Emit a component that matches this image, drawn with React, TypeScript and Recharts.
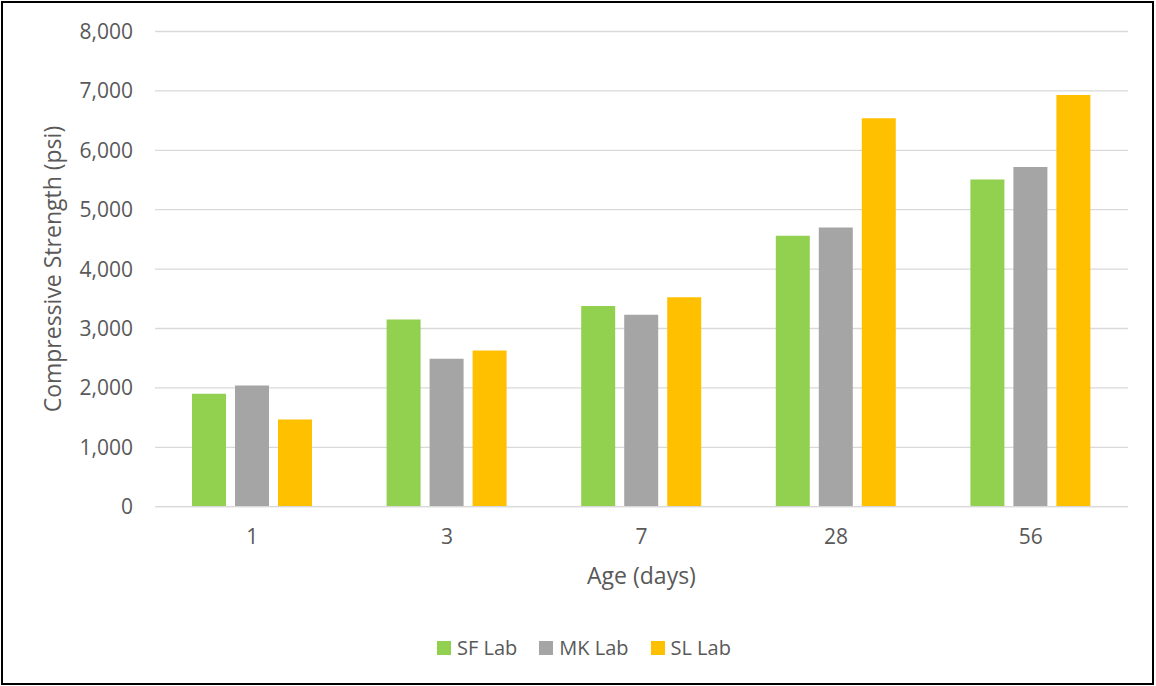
import React from 'react';
import { BarChart, Bar, XAxis, YAxis, CartesianGrid, Legend } from 'recharts';

const ages = ['1', '3', '7', '28', '56'];
const sfLab = [1900, 3150, 3380, 4560, 5510];
const mkLab = [2040, 2490, 3230, 4700, 5720];
const slLab = [1470, 2630, 3525, 6540, 6930];
const yTicks = [0, 1000, 2000, 3000, 4000, 5000, 6000, 7000, 8000];

const seriesNames = ['SF Lab', 'MK Lab', 'SL Lab'];
const seriesColors = ['#92D050', '#A5A5A5', '#FFC000'];

const data = ages.map((age, i) => ({ age, sf: sfLab[i], mk: mkLab[i], sl: slLab[i] }));

const FONT = '"Open Sans", sans-serif';
const TEXT = '#595959';

const LegendContent = () => (
  <div style={{ display: 'flex', alignItems: 'center', height: 24, fontFamily: FONT, fontSize: 20, color: TEXT }}>
    {seriesNames.map((n, i) => (
      <div key={n} style={{ display: 'flex', alignItems: 'center', marginRight: i < 2 ? 22 : 0 }}>
        <div style={{ width: 14, height: 14, background: seriesColors[i], marginRight: 6 }} />
        <span style={{ lineHeight: '24px' }}>{n}</span>
      </div>
    ))}
  </div>
);

export default function App() {
  return (
    <div style={{ position: 'absolute', left: 0, top: 0, width: 1156, height: 686, background: '#fff' }}>
      <div style={{ position: 'absolute', left: 1, top: 1, width: 1153, height: 684, border: '2px solid #000', boxSizing: 'border-box' }} />
      <BarChart
        width={1156}
        height={686}
        data={data}
        margin={{ top: 31.5, right: 28, left: 0, bottom: 75.3 }}
        barSize={34}
        barGap={9}
      >
        <CartesianGrid vertical={false} stroke="#D9D9D9" strokeWidth={1.3} />
        <XAxis
          dataKey="age"
          height={80}
          axisLine={{ stroke: '#D9D9D9', strokeWidth: 1.3 }}
          tickLine={false}
          tickMargin={16}
          tick={{ fill: TEXT, fontSize: 21, fontFamily: FONT }}
          label={{ value: 'Age (days)', position: 'insideBottom', offset: 3, fill: TEXT, fontSize: 23, fontFamily: FONT }}
        />
        <YAxis
          width={155}
          domain={[0, 8000]}
          ticks={yTicks}
          axisLine={false}
          tickLine={false}
          tickMargin={16}
          tick={{ fill: TEXT, fontSize: 21, fontFamily: FONT }}
          tickFormatter={(v: number) => v.toLocaleString('en-US')}
          label={{
            value: 'Compressive Strength (psi)',
            angle: -90,
            position: 'insideLeft',
            offset: 53,
            fill: TEXT,
            fontSize: 23,
            fontFamily: FONT,
            style: { textAnchor: 'middle' },
          }}
        />
        <Legend
          verticalAlign="bottom"
          layout="horizontal"
          content={<LegendContent />}
          wrapperStyle={{ position: 'absolute', top: 635.5, left: 437, bottom: 'auto', width: 'auto' }}
        />
        <Bar dataKey="sf" name={seriesNames[0]} fill={seriesColors[0]} isAnimationActive={false} />
        <Bar dataKey="mk" name={seriesNames[1]} fill={seriesColors[1]} isAnimationActive={false} />
        <Bar dataKey="sl" name={seriesNames[2]} fill={seriesColors[2]} isAnimationActive={false} />
      </BarChart>
    </div>
  );
}
